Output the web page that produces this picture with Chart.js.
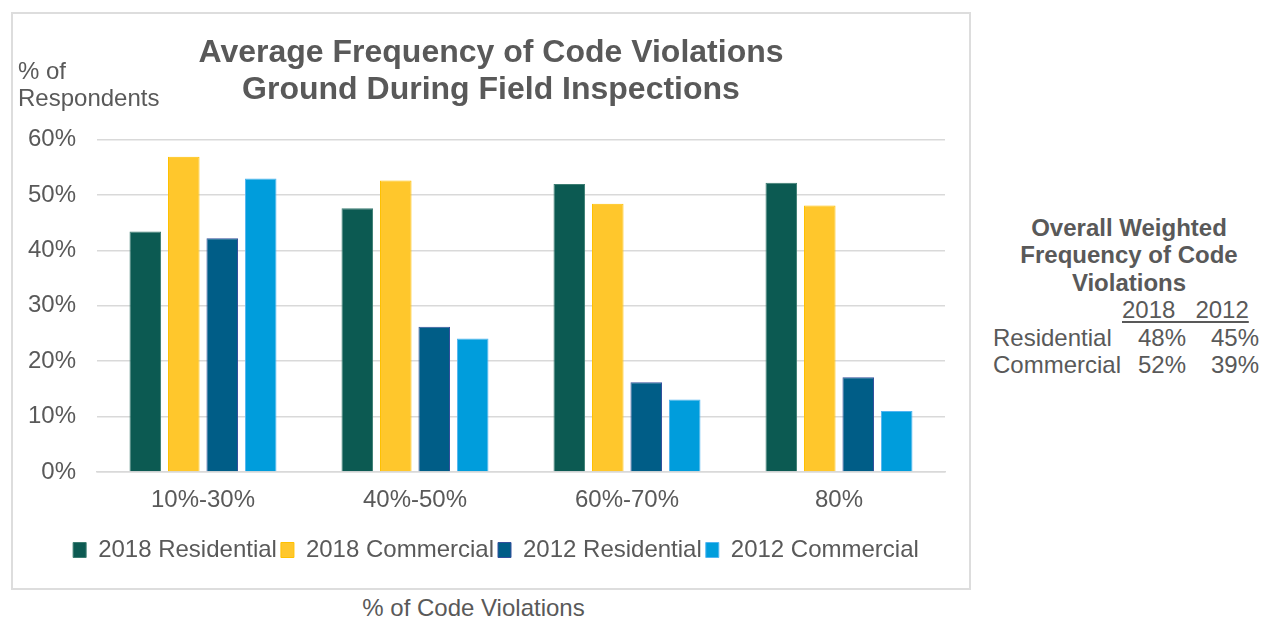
<!DOCTYPE html>
<html>
<head>
<meta charset="utf-8">
<script src="https://cdn.jsdelivr.net/npm/chart.js@4.4.1/dist/chart.umd.min.js"></script>
<style>
  html, body { margin: 0; padding: 0; background: #fff; }
  body { width: 1262px; height: 617px; position: relative; overflow: hidden;
         font-family: 'Liberation Sans', Arial, sans-serif; color: #595959; }
  .frame { position: absolute; left: 11px; top: 12px; width: 960px; height: 578px;
           box-sizing: border-box; border: 2px solid #dddddd; }
  .note { position: absolute; font-size: 24px; white-space: pre; }
  .bold { font-weight: bold; text-align: center; }
  .years { text-decoration: underline; text-decoration-thickness: 1.5px; text-underline-offset: 3px; }
  .num { text-align: right; width: 60px; }
</style>
</head>
<body>
<div class="frame"><canvas id="chart"></canvas></div>
<div class="note" id="yTitle" style="left:18px; top:58px; line-height:26.7px;"></div>
<div class="note" id="xTitle" style="left:0; top:594px; width:947px; line-height:28px; text-align:center;"></div>
<div id="overall"></div>

<script>
// chart values
const categories = ['10%-30%', '40%-50%', '60%-70%', '80%'];
const residential2018 = [43.4, 47.6, 52.0, 52.2];
const commercial2018 = [56.9, 52.6, 48.4, 48.1];
const residential2012 = [42.2, 26.2, 16.2, 17.1];
const commercial2012 = [53.0, 24.1, 13.1, 11.0];
const yTicks = [0, 10, 20, 30, 40, 50, 60];

const chartTitle = ['Average Frequency of Code Violations', 'Ground During Field Inspections'];
const yAxisTitle = ['% of', 'Respondents'];
const xAxisTitle = '% of Code Violations';

// side table
const overallTitle = ['Overall Weighted', 'Frequency of Code', 'Violations'];
const overallYears = ['2018', '2012'];
const overallTypes = ['Residential', 'Commercial'];
const overall2018 = [48, 52];
const overall2012 = [45, 39];

const GREY = '#595959';
const FONT = "'Liberation Sans', Arial, sans-serif";

/**
 * Puts the notes that sit outside the chart frame
 */
function buildNotes () {
  document.getElementById('yTitle').textContent = yAxisTitle.join('\n');
  document.getElementById('xTitle').textContent = xAxisTitle;

  const root = document.getElementById('overall');
  const add = (text, cls, style) => {
    const el = document.createElement('div');
    el.className = 'note ' + cls;
    el.textContent = text;
    el.setAttribute('style', style);
    root.appendChild(el);
  };

  add(overallTitle.join('\n'), 'bold', 'left:999px; top:214px; width:260px; line-height:27.3px;');
  add(overallYears.join('   '), 'years', 'left:1122px; top:295.5px; line-height:27px;');

  overallTypes.forEach((type, i) => {
    const top = 324 + i * 27.4;
    add(type, '', `left:993px; top:${top}px; line-height:27px;`);
    add(overall2018[i] + '%', 'num', `left:1126px; top:${top}px; line-height:27px;`);
    add(overall2012[i] + '%', 'num', `left:1199px; top:${top}px; line-height:27px;`);
  });
}

// title and legend in the reference are centred on the frame, not the padded area
const boxShift = {
  id: 'boxShift',
  afterLayout (chart) {
    chart.titleBlock.left += 5;
    chart.titleBlock.right += 5;
    chart.legend.left += 10;
    chart.legend.right += 10;
  }
};

function bar (label, data, fill, border) {
  return {
    label,
    data,
    backgroundColor: fill,
    borderColor: border,
    borderWidth: 1,
    categoryPercentage: 0.726,
    barPercentage: 0.82
  };
}

function createChart () {
  const ctx = document.getElementById('chart');

  return new Chart(ctx, {
    type: 'bar',
    data: {
      labels: categories,
      datasets: [
        bar('2018 Residential', residential2018, '#0c5a52', '#3c7d72'),
        bar('2018 Commercial', commercial2018, '#ffc72c', '#ffc000'),
        bar('2012 Residential', residential2012, '#005d87', '#34509c'),
        bar('2012 Commercial', commercial2012, '#009ddc', '#52b5f2')
      ]
    },
    options: {
      responsive: true,
      maintainAspectRatio: false,
      animation: false,
      layout: { padding: { left: 14, right: 24, top: 0, bottom: 16 } },
      plugins: {
        title: {
          display: true,
          text: chartTitle,
          color: GREY,
          font: { family: FONT, size: 32, weight: 'bold', lineHeight: 1.15 },
          padding: { top: 21, bottom: 31 }
        },
        legend: {
          position: 'bottom',
          labels: {
            color: GREY,
            font: { family: FONT, size: 24 },
            boxWidth: 13,
            boxHeight: 15,
            padding: 4
          }
        },
        tooltip: { enabled: false }
      },
      scales: {
        x: {
          grid: { display: false, drawTicks: false },
          border: { color: '#d9d9d9', width: 1.5 },
          ticks: { color: GREY, font: { family: FONT, size: 24 }, padding: 14 },
          afterFit (scale) { scale.height = 62; }
        },
        y: {
          min: yTicks[0],
          max: yTicks[yTicks.length - 1],
          grid: { color: '#d9d9d9', lineWidth: 1.5, drawTicks: false },
          border: { display: false },
          ticks: {
            stepSize: 10,
            color: GREY,
            font: { family: FONT, size: 24 },
            padding: 21,
            callback: v => v + '%'
          },
          afterFit (scale) { scale.width = 70; }
        }
      }
    },
    plugins: [boxShift]
  });
}

buildNotes();
createChart();
</script>
</body>
</html>
